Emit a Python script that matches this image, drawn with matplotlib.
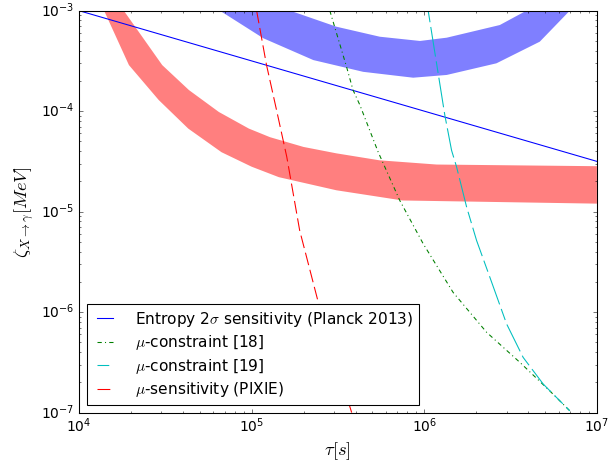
import matplotlib
matplotlib.use("Agg")
import matplotlib.pyplot as plt

plt.style.use("classic")

# Entropy 2 sigma sensitivity (Planck 2013)
tau_entropy = [1e4, 1e7]
zeta_entropy = [1e-3, 3.16e-5]

# mu-constraint [18]
tau_mu18 = [2.84e5, 3.55e5, 3.87e5, 4.24e5, 5.41e5, 7.22e5, 9.86e5, 1.47e6, 2.30e6, 3.58e6, 5.34e6, 6.97e6]
zeta_mu18 = [1e-3, 2.76e-4, 1.62e-4, 1.15e-4, 3.92e-5, 1.29e-5, 4.79e-6, 1.57e-6, 6.28e-7, 3.16e-7, 1.64e-7, 1.04e-7]

# mu-constraint [19]
tau_mu19 = [1.054e6, 1.316e6, 1.44e6, 1.54e6, 1.76e6, 2.01e6, 2.40e6, 3.00e6, 3.74e6, 4.89e6, 6.97e6]
zeta_mu19 = [1e-3, 9.12e-5, 4.07e-5, 2.78e-5, 1.11e-5, 5.16e-6, 2.22e-6, 7.62e-7, 3.54e-7, 1.92e-7, 1.04e-7]

# mu-sensitivity (PIXIE)
tau_pixie = [1.07e5, 1.22e5, 1.40e5, 1.60e5, 1.90e5, 2.50e5, 3.80e5]
zeta_pixie = [1e-3, 2.9e-4, 1.0e-4, 3.5e-5, 6.5e-6, 1.05e-6, 1e-7]

# red band (lower / upper edge)
tau_red_lo = [1.4e4, 1.95e4, 2.9e4, 4.3e4, 6.7e4, 1.0e5, 1.44e5, 3.1e5, 7.5e5, 1e7]
zeta_red_lo = [1e-3, 2.87e-4, 1.29e-4, 6.7e-5, 3.9e-5, 2.8e-5, 2.2e-5, 1.63e-5, 1.29e-5, 1.2e-5]
tau_red_hi = [1.82e4, 3.04e4, 4.34e4, 6.47e4, 9.65e4, 1.28e5, 2.0e5, 3.1e5, 5.5e5, 1.18e6, 1e7]
zeta_red_hi = [1e-3, 2.87e-4, 1.62e-4, 9.8e-5, 6.7e-5, 5.5e-5, 4.4e-5, 3.8e-5, 3.24e-5, 2.94e-5, 2.83e-5]

# blue band (lower / upper edge)
tau_blue_lo = [6.55e4, 1.17e5, 2.28e5, 4.43e5, 8.63e5, 1.35e6, 2.62e6, 4.67e6, 6.97e6]
zeta_blue_lo = [1e-3, 5.31e-4, 3.22e-4, 2.46e-4, 2.15e-4, 2.29e-4, 2.99e-4, 4.91e-4, 1e-3]
tau_blue_hi = [1.67e5, 3.1e5, 5.53e5, 9.45e5, 1.35e6, 2.74e6, 3.91e6]
zeta_blue_hi = [1e-3, 6.92e-4, 5.5e-4, 4.99e-4, 5.38e-4, 7.19e-4, 1e-3]

fig = plt.figure(figsize=(8, 6), dpi=77, facecolor="white")
ax = fig.add_subplot(111)
fig.subplots_adjust(left=0.128, right=0.969, bottom=0.107, top=0.977)

ax.set_xscale("log")
ax.set_yscale("log")

# bands
ax.fill(tau_red_lo + tau_red_hi[::-1], zeta_red_lo + zeta_red_hi[::-1],
        color="r", alpha=0.5, lw=0, zorder=1)
ax.fill(tau_blue_lo + tau_blue_hi[::-1], zeta_blue_lo + zeta_blue_hi[::-1],
        color="b", alpha=0.5, lw=0, zorder=1)

# lines
ax.plot(tau_entropy, zeta_entropy, "b-", lw=1,
        label=r"Entropy 2$\sigma$ sensitivity (Planck 2013)")
ax.plot(tau_mu18, zeta_mu18, color="g", lw=1, dashes=(4, 3, 1, 3),
        label=r"$\mu$-constraint [18]")
ax.plot(tau_mu19, zeta_mu19, color="c", lw=1, dashes=(11, 4.5, 28, 4.5),
        label=r"$\mu$-constraint [19]")
ax.plot(tau_pixie, zeta_pixie, color="r", lw=1, dashes=(12, 4.5),
        label=r"$\mu$-sensitivity (PIXIE)")

ax.set_xlim(1e4, 1e7)
ax.set_ylim(1e-7, 1e-3)
ax.tick_params(labelsize=13)
ax.set_xlabel(r"$\tau [s]$", fontsize="x-large")
ax.set_ylabel(r"$\zeta_{X\to\gamma} [MeV]$", fontsize="x-large")

ax.legend(loc="lower left", fontsize="large", borderpad=0.35, labelspacing=0.3,
          handlelength=1.7, handletextpad=1.1, borderaxespad=0.5)

fig.savefig("out.png", dpi=77, facecolor="white")
